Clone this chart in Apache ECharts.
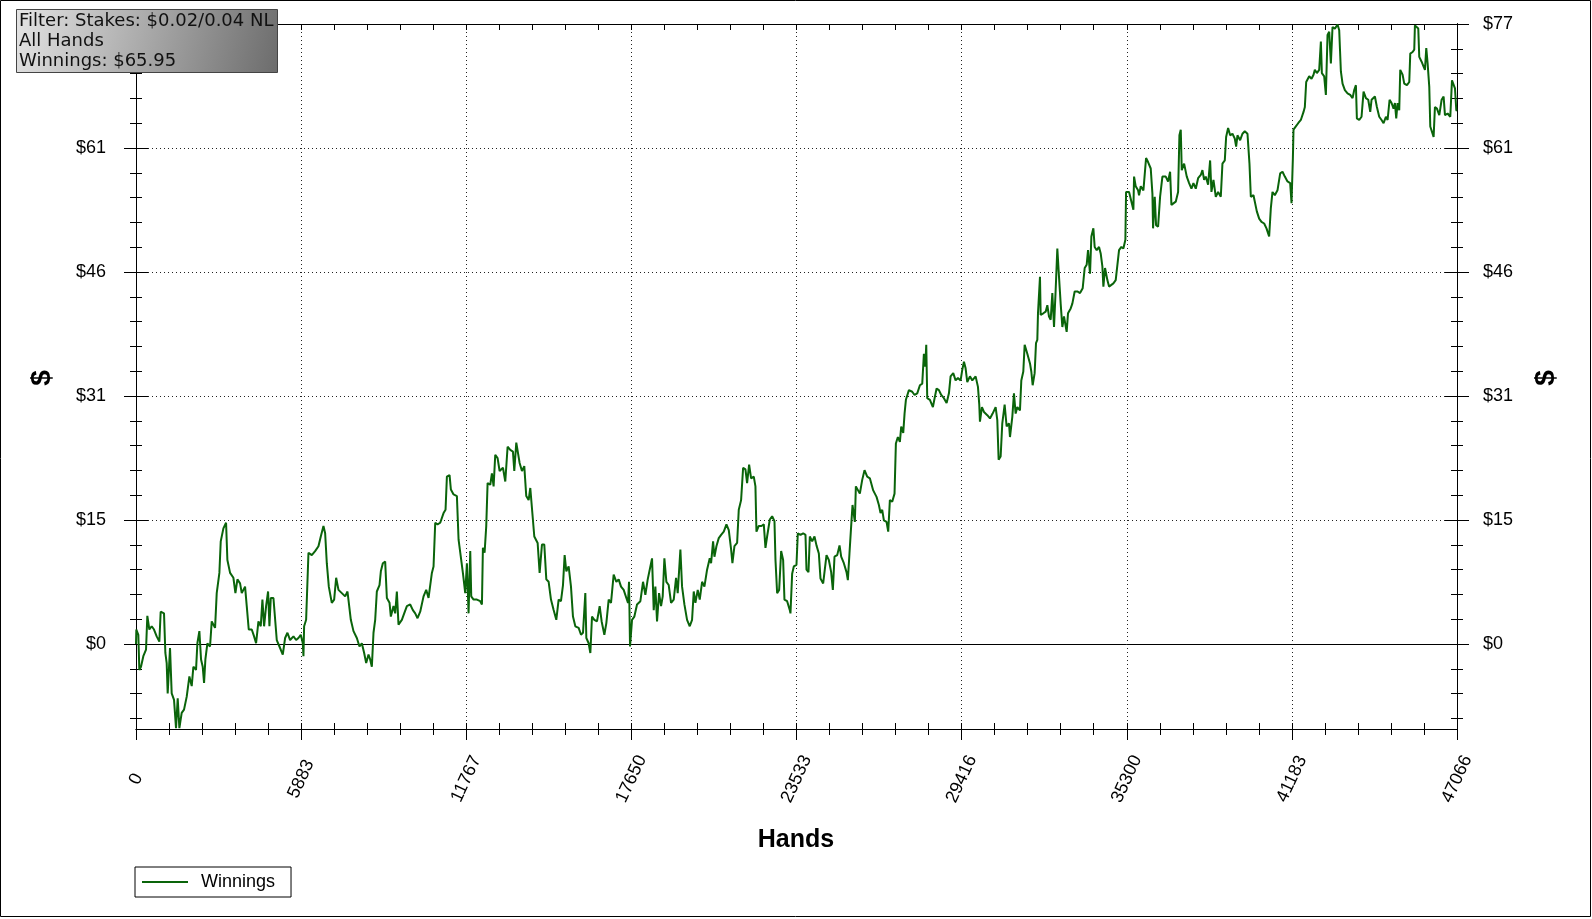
<!DOCTYPE html>
<html>
<head>
<meta charset="utf-8">
<script src="https://cdn.jsdelivr.net/npm/echarts@6/dist/echarts.min.js"></script>
<style>
html,body{margin:0;padding:0;background:#fff;}
#chart{width:1592px;height:919px;}
</style>
</head>
<body>
<div id="chart"></div>
<script>
// ---- data ----
var hands = [0,12,83,119,178,261,357,404,475,559,642,737,832,879,998,1046,1093,1129,1212,1272,1355,1426,1486,1545,1628,1711,1807,1902,1985,2044,2139,2187,2258,2318,2377,2425,2472,2543,2638,2698,2817,2876,2971,3019,3114,3209,3256,3352,3470,3542,3613,3708,3768,3886,3946,4017,4124,4207,4279,4362,4445,4504,4564,4635,4706,4754,4802,4897,4968,5015,5111,5229,5313,5396,5491,5610,5705,5788,5871,5943,5966,5990,6061,6145,6263,6382,6501,6584,6679,6739,6798,6870,6976,7060,7131,7214,7333,7452,7535,7606,7654,7749,7868,7963,8046,8129,8201,8284,8343,8403,8462,8522,8581,8676,8724,8795,8878,8938,9033,9080,9175,9235,9294,9353,9472,9556,9651,9769,9865,9948,10031,10126,10245,10340,10423,10542,10601,10661,10744,10839,10958,11029,11077,11172,11219,11315,11433,11493,11552,11647,11730,11790,11849,11909,11944,12028,12146,12265,12325,12360,12420,12479,12527,12622,12681,12741,12800,12883,12955,13074,13157,13240,13335,13430,13478,13549,13620,13668,13751,13834,13905,13989,14048,14107,14191,14310,14381,14464,14547,14619,14702,14785,14880,14975,15058,15141,15213,15272,15332,15415,15498,15569,15653,15771,15855,15926,16009,16045,16128,16188,16247,16330,16425,16520,16591,16687,16758,16841,16924,17019,17114,17197,17281,17376,17471,17530,17566,17602,17673,17756,17851,17970,18065,18148,18232,18327,18386,18446,18505,18564,18636,18707,18766,18826,18897,18980,19064,19159,19242,19301,19396,19456,19539,19634,19729,19812,19872,19931,20014,20086,20169,20252,20347,20442,20490,20561,20609,20680,20763,20847,20942,21037,21120,21203,21250,21322,21417,21476,21559,21631,21714,21773,21845,21916,22011,22070,22106,22189,22284,22368,22427,22486,22582,22665,22748,22784,22843,22915,22986,23057,23104,23199,23295,23318,23378,23437,23532,23580,23675,23770,23853,23889,23960,24008,24091,24174,24245,24329,24388,24483,24554,24602,24685,24768,24828,24887,24983,25066,25125,25220,25315,25363,25434,25493,25529,25577,25612,25648,25719,25790,25874,25957,26052,26147,26266,26385,26468,26527,26587,26646,26741,26801,26860,26943,27026,27074,27145,27217,27264,27336,27383,27431,27538,27656,27740,27835,27930,28013,28072,28120,28156,28191,28286,28393,28453,28524,28607,28690,28785,28881,28964,29023,29118,29201,29285,29380,29439,29499,29558,29617,29713,29796,29915,29998,30045,30069,30140,30212,30331,30426,30521,30628,30687,30735,30806,30865,30949,31020,31103,31139,31222,31281,31341,31400,31495,31543,31614,31662,31757,31852,31899,31947,32018,32066,32113,32137,32208,32232,32327,32410,32470,32529,32589,32648,32708,32767,32826,32886,32945,33005,33064,33159,33207,33302,33361,33444,33539,33635,33730,33801,33872,33920,33991,34039,34110,34157,34229,34312,34371,34431,34467,34526,34609,34669,34728,34823,34906,34966,35025,35108,35180,35251,35275,35382,35441,35536,35560,35619,35703,35738,35798,35893,35964,35988,36059,36154,36214,36237,36297,36344,36416,36487,36570,36689,36772,36844,36891,36962,37045,37129,37176,37224,37259,37343,37438,37521,37604,37675,37759,37842,37937,37996,38056,38115,38198,38270,38317,38389,38472,38555,38650,38709,38793,38840,38911,38983,39066,39149,39197,39244,39339,39422,39505,39601,39672,39720,39815,39886,39934,40017,40100,40195,40278,40373,40433,40492,40575,40670,40766,40849,40932,41027,41122,41170,41217,41241,41324,41407,41502,41598,41645,41693,41800,41883,41954,42001,42073,42156,42216,42251,42334,42394,42453,42513,42572,42631,42715,42810,42869,42929,42988,43071,43166,43261,43345,43404,43464,43499,43582,43665,43737,43820,43903,43975,44022,44093,44141,44212,44295,44378,44450,44533,44593,44664,44735,44806,44854,44901,44949,45008,45044,45127,45187,45282,45365,45401,45484,45543,45567,45638,45686,45721,45805,45876,45924,45971,46019,46078,46114,46161,46233,46280,46352,46435,46518,46589,46637,46732,46827,46887,46946,46994,47041,47066];
var winnings = [0,1.8,1.15,-3.2,-2.8,-1.5,-0.7,3.5,1.8,2.2,1.8,0.95,0.3,4.0,3.8,-1.1,-2.35,-6.1,-0.5,-6.1,-6.9,-10.4,-6.7,-10.4,-8.5,-8.1,-6.5,-4.0,-5.2,-2.8,-3.2,0.1,1.6,-1.9,-2.8,-4.8,-1.9,0.1,-0.3,2.8,2.0,6.3,8.8,12.7,14.3,15.0,10.4,8.8,8.2,6.3,8.0,7.5,6.3,7.1,4.7,1.8,1.8,0.95,0.1,2.8,2.2,5.5,2.2,4.7,6.5,2.2,5.7,5.7,5.9,0.5,-0.3,-1.3,0.75,1.4,0.5,0.95,0.5,0.75,1.15,0.1,-1.5,2.2,3.0,11.3,11.0,11.5,12.1,13.3,14.6,13.7,10.0,7.1,5.1,5.5,8.2,6.7,6.3,5.9,6.5,6.5,3.0,1.6,0.75,-0.3,0.1,-1.1,-2.35,-1.3,-1.9,-2.8,1.4,3.0,6.5,7.3,9.0,10.0,10.2,5.7,5.1,3.4,4.7,3.8,6.5,2.4,3.0,3.8,4.7,4.9,4.2,3.8,3.2,4.0,5.9,6.7,5.7,8.8,9.6,15.0,14.8,15.0,16.2,16.6,20.7,20.9,19.1,18.5,18.3,12.9,12.9,8.8,6.3,10.0,3.8,11.5,5.9,5.5,5.5,5.3,4.9,11.9,11.3,14.6,19.9,19.7,21.1,19.5,23.4,23.0,21.4,21.8,20.1,24.4,24.0,23.8,21.4,24.9,25.1,22.4,21.4,22.0,18.3,17.8,19.3,19.1,13.3,12.5,8.8,12.3,12.3,8.0,7.7,5.5,4.2,3.0,5.5,5.3,7.3,11.0,9.0,9.6,7.1,3.4,2.2,2.0,1.15,1.4,6.3,0.75,0.1,-1.1,3.4,3.0,2.8,4.7,2.8,1.15,2.6,5.5,5.1,8.6,7.7,8.0,7.1,6.7,5.7,5.1,7.7,-0.3,3.0,3.4,4.9,5.3,7.7,6.1,8.0,9.6,10.6,4.2,7.1,2.8,6.3,4.7,5.9,10.6,7.7,7.3,5.1,5.5,8.2,6.3,11.7,7.1,4.9,3.0,2.2,3.0,6.5,5.1,6.7,5.5,7.7,7.1,9.2,10.6,10.0,12.7,10.8,12.1,13.1,13.5,13.9,14.8,14.1,11.7,10.0,12.1,12.5,16.6,17.8,21.8,21.6,19.9,22.2,20.5,20.7,19.5,13.9,14.6,14.6,14.8,11.9,13.3,15.4,15.8,15.2,10.4,6.3,6.7,11.5,10.4,5.5,5.3,4.2,3.8,8.7,9.6,9.8,13.7,13.5,13.7,13.5,9.2,8.9,13.3,12.7,13.3,12.2,11.2,8.1,7.5,7.5,11.0,10.4,8.9,6.7,10.8,11.0,12.2,10.8,10.0,8.9,7.9,12.0,15.3,17.2,17.4,15.1,19.5,19.3,18.6,20.3,21.5,20.7,20.5,19.0,18.2,17.2,16.2,16.6,15.3,15.1,13.9,17.8,17.6,18.6,24.8,25.6,25.0,26.9,26.1,28.5,30.2,31.4,31.2,30.8,31.0,32.0,32.2,35.9,34.3,37.0,30.4,30.2,29.3,30.4,31.6,31.4,30.8,30.4,29.8,31.0,33.1,33.5,32.6,32.9,32.6,33.9,34.9,34.1,32.4,33.1,32.6,33.1,31.8,29.6,27.5,29.3,28.7,28.3,27.9,28.5,29.3,27.7,22.8,23.2,27.3,29.6,26.9,27.3,25.6,28.1,31.0,28.5,29.3,28.9,32.6,33.7,37.0,35.9,34.7,33.7,32.0,33.5,37.2,37.6,40.9,45.4,40.7,40.9,41.1,41.9,40.5,40.1,43.4,39.2,43.8,48.9,45.4,42.1,39.2,40.5,38.6,40.9,41.5,42.1,43.6,43.6,43.4,44.0,46.5,46.9,48.7,45.8,50.4,51.4,49.1,48.7,49.1,48.3,46.7,44.2,46.5,45.0,44.2,44.0,44.6,45.0,45.2,48.7,49.1,48.9,50.0,55.9,55.9,56.1,53.7,57.8,56.6,56.1,55.5,56.6,56.1,56.3,60.1,59.6,58.8,55.7,51.4,55.3,51.8,51.6,55.3,57.8,57.8,57.2,58.4,54.3,54.1,54.7,55.9,62.9,63.6,58.6,59.4,57.8,57.0,56.3,57.0,56.3,57.6,58.0,58.6,57.4,57.8,56.8,59.8,55.9,57.4,55.3,55.9,55.3,59.4,59.8,62.7,63.8,62.9,63.1,62.5,61.5,62.9,62.3,63.1,63.4,63.1,59.4,55.3,55.5,55.7,53.5,52.6,52.2,52.0,51.4,50.4,53.9,55.9,55.5,56.1,58.2,58.4,57.8,57.2,57.0,54.5,59.9,63.6,64.0,64.4,64.8,65.8,66.4,69.5,70.2,69.9,70.4,71.0,70.6,71.0,74.5,70.6,70.2,67.9,75.3,75.7,71.8,76.3,76.1,76.6,75.9,70.8,69.3,68.5,68.1,67.9,67.5,68.5,69.1,65.0,64.8,65.2,68.3,67.5,67.3,65.8,67.3,67.1,67.7,66.4,65.2,64.8,64.4,65.2,64.8,67.3,66.9,66.2,66.9,65.0,66.9,66.0,71.0,70.4,69.3,69.1,69.5,73.0,73.2,73.5,76.5,76.3,76.1,72.6,72.0,71.4,71.0,73.7,71.8,68.9,64.0,63.8,62.7,66.4,66.2,65.4,67.3,67.7,65.4,65.6,65.2,69.7,69.5,68.7,66.0,65.95];

var xTickLabels = ['0','5883','11767','17650','23533','29416','35300','41183','47066'];
var xMax = 47066;
var yTickValues = [0, 46/3, 92/3, 46, 184/3, 230/3];
var yTickLabels = ['$0','$15','$31','$46','$61','$77'];
var yMin = -10.5, yMax = 230/3;
var infoLines = ['Filter: Stakes: $0.02/0.04 NL', 'All Hands', 'Winnings: $65.95'];

// ---- build ----
var seriesData = hands.map(function(h, i){ return [h, winnings[i]]; });
var yStep = yTickValues[1] - yTickValues[0];
var minorVals = [];
for (var k = -15; k <= 25; k++) {
  var v = k * yStep / 5;
  if (v >= yMin && v <= yMax + 1e-9) minorVals.push(v);
}
var xInterval = xMax / (xTickLabels.length - 1);
var FONT = 'Liberation Sans, Arial, sans-serif';
var LINE_COLOR = '#0a640a';

function yAx(pos, vals, len, inside, labels, margin) {
  return {
    type: 'value', position: pos, min: yMin, max: yMax,
    axisLine: { show: true, lineStyle: { color: '#000', width: 1 } },
    axisTick: { show: true, customValues: vals, length: len, inside: inside, lineStyle: { color: '#000', width: 1 } },
    axisLabel: labels ? {
      show: true, customValues: yTickValues, margin: margin, color: '#000',
      fontFamily: FONT, fontSize: 18,
      formatter: function(v){ var i = yTickValues.findIndex(function(t){return Math.abs(t-v)<1e-6;}); return i>=0 ? yTickLabels[i] : ''; }
    } : { show: false },
    splitLine: { show: false }
  };
}

var yAxes = [
  yAx('left', yTickValues, 12, false, true, 30),
  yAx('left', yTickValues, 12, true, false),
  yAx('left', minorVals, 6, false, false),
  yAx('left', minorVals, 6, true, false),
  yAx('right', yTickValues, 12, false, true, 26),
  yAx('right', yTickValues, 12, true, false),
  yAx('right', minorVals, 6, false, false),
  yAx('right', minorVals, 6, true, false)
];
yAxes[0].splitLine = { show: true, lineStyle: { color: '#222', width: 1, type: [1, 3] } };

function xAx(pos, inside, majorLen, labels, split) {
  return {
    type: 'value', position: pos, min: 0, max: xMax, interval: xInterval,
    axisLine: { show: true, onZero: false, lineStyle: { color: '#000', width: 1 } },
    axisTick: { show: true, inside: inside, length: majorLen, lineStyle: { color: '#000', width: 1 } },
    minorTick: { show: true, splitNumber: 5, length: 6, lineStyle: { color: '#000', width: 1 } },
    axisLabel: labels ? {
      show: true, rotate: 65, margin: 50, align: 'center', verticalAlign: 'middle',
      color: '#000', fontFamily: FONT, fontSize: 18,
      formatter: function(v){ return xTickLabels[Math.round(v / xInterval)]; }
    } : { show: false },
    splitLine: split ? { show: true, lineStyle: { color: '#222', width: 1, type: [1, 3] } } : { show: false },
    minorSplitLine: { show: false }
  };
}

var option = {
  animation: false,
  backgroundColor: '#fff',
  grid: { left: 136, right: 135, top: 24, bottom: 190, containLabel: false },
  xAxis: [
    xAx('bottom', false, 11, true, true),
    xAx('bottom', true, 6, false, false),
    xAx('top', true, 6, false, false)
  ],
  yAxis: yAxes,
  legend: {
    show: true, left: 135, top: 867, orient: 'horizontal',
    borderColor: '#000', borderWidth: 1, borderRadius: 0,
    padding: [6, 16, 6, 7], itemWidth: 46, itemHeight: 2,
    textStyle: { color: '#000', fontFamily: FONT, fontSize: 18, padding: [0, 0, 0, 8] },
    data: [{ name: 'Winnings', icon: 'rect', itemStyle: { color: LINE_COLOR } }]
  },
  series: [{
    name: 'Winnings', type: 'line', xAxisIndex: 0, yAxisIndex: 0,
    data: seriesData, symbol: 'none', showSymbol: false, sampling: 'none',
    lineStyle: { color: LINE_COLOR, width: 2 }, itemStyle: { color: LINE_COLOR },
    z: 3,
    markLine: {
      silent: true, symbol: ['none', 'none'], z: 2,
      label: { show: false },
      lineStyle: { color: '#000', type: 'solid', width: 1 },
      data: [{ yAxis: 0 }]
    }
  }],
  graphic: [
    { type: 'rect', shape: { x: 0.5, y: 0.5, width: 1590, height: 916 }, style: { fill: 'none', stroke: '#000', lineWidth: 1 }, silent: true, z: 100 },
    { type: 'rect', shape: { x: 16.5, y: 9.5, width: 261, height: 63 },
      style: { fill: { type: 'linear', x: 0, y: 0, x2: 1, y2: 1, colorStops: [{ offset: 0, color: '#e4e4e4' }, { offset: 1, color: '#6c6c6c' }] }, stroke: '#444', lineWidth: 1 }, z: 100 },
    { type: 'text', x: 19, y: 21, style: { text: infoLines[0], font: '18px "DejaVu Sans"', fill: '#111', textVerticalAlign: 'middle' }, z: 101 },
    { type: 'text', x: 19, y: 41, style: { text: infoLines[1], font: '18px "DejaVu Sans"', fill: '#111', textVerticalAlign: 'middle' }, z: 101 },
    { type: 'text', x: 19, y: 61, style: { text: infoLines[2], font: '18px "DejaVu Sans"', fill: '#111', textVerticalAlign: 'middle' }, z: 101 },
    { type: 'text', x: 42, y: 378, rotation: Math.PI / 2, style: { text: '$', font: 'bold 28px "Liberation Sans"', fill: '#000', textAlign: 'center', textVerticalAlign: 'middle' }, z: 101 },
    { type: 'text', x: 1546, y: 378, rotation: Math.PI / 2, style: { text: '$', font: 'bold 28px "Liberation Sans"', fill: '#000', textAlign: 'center', textVerticalAlign: 'middle' }, z: 101 },
    { type: 'text', x: 796, y: 840, style: { text: 'Hands', font: 'bold 25px "Liberation Sans"', fill: '#000', textAlign: 'center', textVerticalAlign: 'middle' }, z: 101 }
  ]
};

var chart = echarts.init(document.getElementById('chart'), null, { renderer: 'canvas' });
chart.setOption(option);
</script>
</body>
</html>
